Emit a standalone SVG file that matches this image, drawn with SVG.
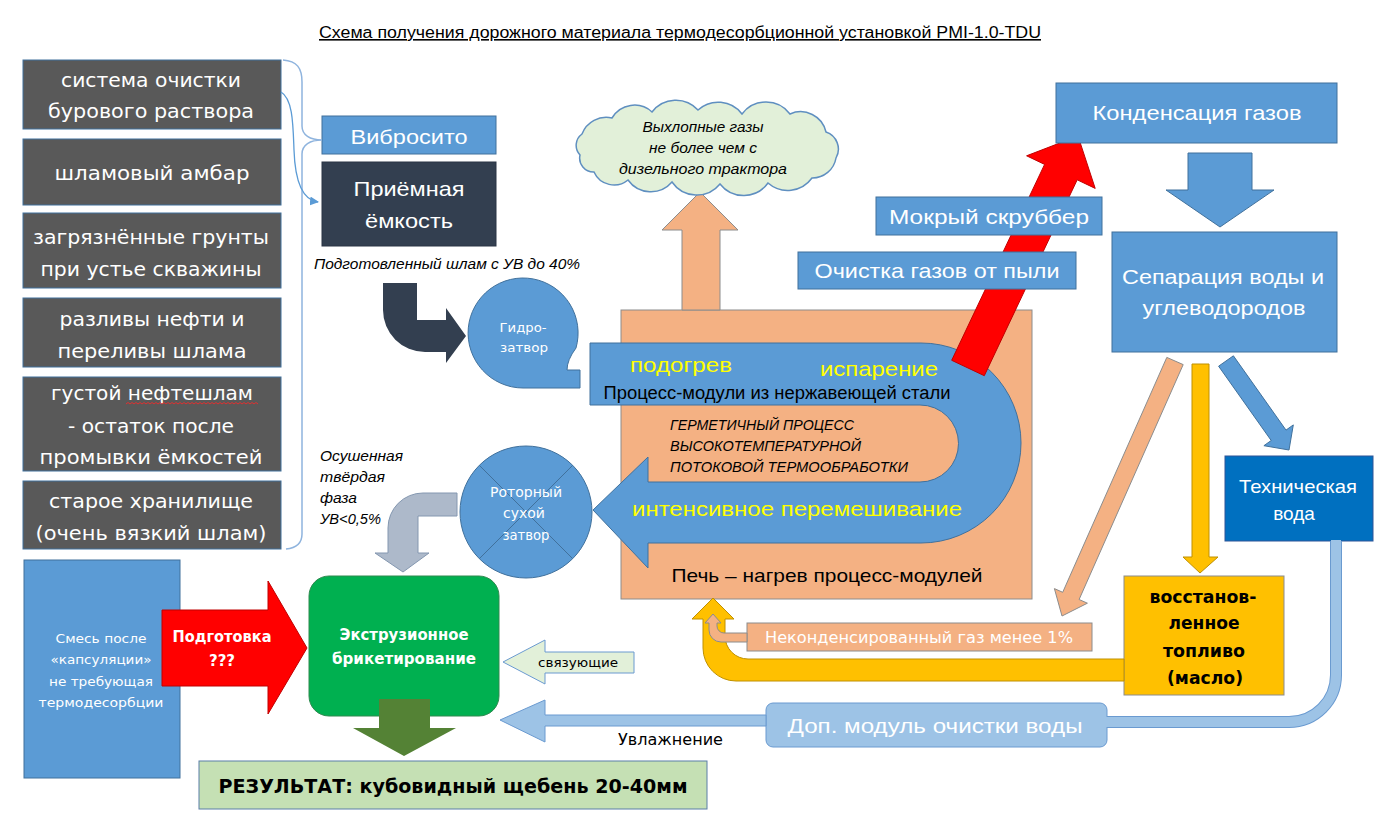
<svg xmlns="http://www.w3.org/2000/svg" width="1392" height="830" viewBox="0 0 1392 830">
<defs>
<style>
.cal{font-family:"Liberation Sans",Arial,sans-serif}
.ver{font-family:"DejaVu Sans",Verdana,sans-serif}
.w{fill:#ffffff}
.k{fill:#000000}
.y{fill:#ffff00}
.it{font-style:italic}
.b{font-weight:bold}
.gray{fill:#595959;stroke:#41719c;stroke-width:1}
.blue{fill:#5b9bd5;stroke:#41719c;stroke-width:1}
.org{fill:#f4b183;stroke:#8c8c8c;stroke-width:1}
.lt{font-size:19px}
</style>
<marker id="ah" markerWidth="9" markerHeight="9" refX="8" refY="4.5" orient="auto" markerUnits="userSpaceOnUse"><path d="M0,0 L9,4.5 L0,9 Z" fill="#5b9bd5"/></marker>
</defs>
<rect x="0" y="0" width="1392" height="830" fill="#ffffff"/>

<g id="title">
<text class="cal k" x="680" y="38" font-size="16" text-anchor="middle" textLength="722" lengthAdjust="spacingAndGlyphs" text-decoration="underline">Схема получения дорожного материала термодесорбционной установкой PMI-1.0-TDU</text>
</g>

<g id="sources">
<rect class="gray" x="23" y="60" width="258" height="69"/>
<text class="ver w lt" x="151" y="87" text-anchor="middle" textLength="180" lengthAdjust="spacingAndGlyphs">система очистки</text>
<text class="ver w lt" x="151" y="118" text-anchor="middle" textLength="206" lengthAdjust="spacingAndGlyphs">бурового раствора</text>
<rect class="gray" x="23" y="139" width="258" height="66"/>
<text class="ver w lt" x="152" y="180" text-anchor="middle" textLength="195" lengthAdjust="spacingAndGlyphs">шламовый амбар</text>
<rect class="gray" x="23" y="213" width="258" height="75"/>
<text class="ver w lt" x="151" y="244" text-anchor="middle" textLength="236" lengthAdjust="spacingAndGlyphs">загрязнённые грунты</text>
<text class="ver w lt" x="151" y="276" text-anchor="middle" textLength="221" lengthAdjust="spacingAndGlyphs">при устье скважины</text>
<rect class="gray" x="23" y="298" width="258" height="69"/>
<text class="ver w lt" x="152" y="326" text-anchor="middle" textLength="185" lengthAdjust="spacingAndGlyphs">разливы нефти и</text>
<text class="ver w lt" x="152" y="358" text-anchor="middle" textLength="189" lengthAdjust="spacingAndGlyphs">переливы шлама</text>
<rect class="gray" x="23" y="377" width="258" height="94"/>
<text class="ver w lt" x="152" y="400" text-anchor="middle" textLength="202" lengthAdjust="spacingAndGlyphs">густой нефтешлам</text>
<path d="M126,404 l2,-1.5 l2,1.5 l2,-1.5 l2,1.5 l2,-1.5 l2,1.5 l2,-1.5 l2,1.5 l2,-1.5 l2,1.5 l2,-1.5 l2,1.5 l2,-1.5 l2,1.5 l2,-1.5 l2,1.5 l2,-1.5 l2,1.5 l2,-1.5 l2,1.5 l2,-1.5 l2,1.5 l2,-1.5 l2,1.5 l2,-1.5 l2,1.5 l2,-1.5 l2,1.5 l2,-1.5 l2,1.5 l2,-1.5 l2,1.5 l2,-1.5 l2,1.5 l2,-1.5 l2,1.5 l2,-1.5 l2,1.5 l2,-1.5 l2,1.5 l2,-1.5 l2,1.5 l2,-1.5 l2,1.5 l2,-1.5 l2,1.5 l2,-1.5 l2,1.5 l2,-1.5 l2,1.5 l2,-1.5 l2,1.5 l2,-1.5 l2,1.5 l2,-1.5 l2,1.5 l2,-1.5 l2,1.5 l2,-1.5 l2,1.5 l2,-1.5 l2,1.5 l2,-1.5 l2,1.5 l2,-1.5 l2,1.5" fill="none" stroke="#e03030" stroke-width="1"/>
<text class="ver w lt" x="151" y="433" text-anchor="middle" textLength="166" lengthAdjust="spacingAndGlyphs">- остаток после</text>
<text class="ver w lt" x="151" y="464" text-anchor="middle" textLength="223" lengthAdjust="spacingAndGlyphs">промывки ёмкостей</text>
<rect class="gray" x="23" y="481" width="258" height="68"/>
<text class="ver w lt" x="151" y="508" text-anchor="middle" textLength="204" lengthAdjust="spacingAndGlyphs">старое хранилище</text>
<text class="ver w lt" x="151" y="540" text-anchor="middle" textLength="231" lengthAdjust="spacingAndGlyphs">(очень вязкий шлам)</text>
</g>

<g id="vibrosito">
<rect class="blue" x="322" y="116" width="174" height="38"/>
<text class="cal w" x="409" y="144" font-size="20" text-anchor="middle" textLength="117" lengthAdjust="spacingAndGlyphs">Вибросито</text>
</g>

<g id="priemnaya">
<rect x="322" y="162" width="174" height="84" fill="#333f50" stroke="#2a3444"/>
<text class="cal w" x="409" y="196" font-size="21" text-anchor="middle" textLength="111" lengthAdjust="spacingAndGlyphs">Приёмная</text>
<text class="cal w" x="409" y="228" font-size="21" text-anchor="middle" textLength="88" lengthAdjust="spacingAndGlyphs">ёмкость</text>
</g>

<g id="label-shlam">
<text class="cal k it" x="314" y="269" font-size="15" textLength="266" lengthAdjust="spacingAndGlyphs">Подготовленный шлам с УВ до 40%</text>
</g>

<g id="furnace">
<rect class="org" x="621" y="310" width="411" height="289"/>
<text class="cal k" x="827" y="582" font-size="19" text-anchor="middle" textLength="311" lengthAdjust="spacingAndGlyphs">Печь – нагрев процесс-модулей</text>
</g>

<g id="exhaust-arrow">
<path class="org" d="M682,310 L682,230 L662,230 L700,192 L738,230 L720,230 L720,310 Z"/>
</g>

<g id="cloud">
<path d="M580,155 A14,14 0 0 1 582,134 A26,26 0 0 1 612,118 A26,26 0 0 1 652,112 A30,30 0 0 1 698,110 A30,30 0 0 1 742,114 A30,30 0 0 1 790,114 A26,26 0 0 1 826,132 A18,18 0 0 1 836,158 A24,24 0 0 1 812,178 A30,30 0 0 1 768,183 A30,30 0 0 1 720,184 A30,30 0 0 1 672,182 A28,28 0 0 1 628,180 A22,22 0 0 1 594,172 A14,14 0 0 1 580,155 Z" fill="#e2f0d9" stroke="#5f8fc0" stroke-width="1.5"/>
<text class="cal k it" x="703" y="132" font-size="15" text-anchor="middle" textLength="121" lengthAdjust="spacingAndGlyphs">Выхлопные газы</text>
<text class="cal k it" x="703" y="153" font-size="15" text-anchor="middle" textLength="108" lengthAdjust="spacingAndGlyphs">не более чем с</text>
<text class="cal k it" x="703" y="174" font-size="15" text-anchor="middle" textLength="168" lengthAdjust="spacingAndGlyphs">дизельного трактора</text>
</g>

<g id="process-band">
<path class="blue" d="M590,343 L921,343 A100,100 0 0 1 921,543 L648,543 L648,568 L593,510 L648,457 L648,482 L920,482 A38.5,38.5 0 0 0 920,405 L590,405 Z"/>
<text class="cal y" x="681" y="372" font-size="21" text-anchor="middle" textLength="102" lengthAdjust="spacingAndGlyphs">подогрев</text>
<text class="cal y" x="879" y="376" font-size="21" text-anchor="middle" textLength="118" lengthAdjust="spacingAndGlyphs">испарение</text>
<text class="cal k" x="777" y="399" font-size="18" text-anchor="middle" textLength="347" lengthAdjust="spacingAndGlyphs">Процесс-модули из нержавеющей стали</text>
<text class="cal k it" x="670" y="430" font-size="14" textLength="184" lengthAdjust="spacingAndGlyphs">ГЕРМЕТИЧНЫЙ ПРОЦЕСС</text>
<text class="cal k it" x="670" y="451" font-size="14" textLength="191" lengthAdjust="spacingAndGlyphs">ВЫСОКОТЕМПЕРАТУРНОЙ</text>
<text class="cal k it" x="670" y="472" font-size="14" textLength="238" lengthAdjust="spacingAndGlyphs">ПОТОКОВОЙ ТЕРМООБРАБОТКИ</text>
<text class="cal y" x="797" y="516" font-size="21" text-anchor="middle" textLength="330" lengthAdjust="spacingAndGlyphs">интенсивное перемешивание</text>
</g>

<g id="gas-arrow">
<path d="M951.7,360.3 L1044.6,164.4 L1026.6,155.8 L1078,136 L1095.2,188.4 L1077.2,179.8 L984.3,375.7 Z" fill="#ff0000" stroke="#c00000" stroke-width="1"/>
</g>

<g id="skrubber">
<rect class="blue" x="876" y="197" width="226" height="38"/>
<text class="cal w" x="989" y="224" font-size="21" text-anchor="middle" textLength="200" lengthAdjust="spacingAndGlyphs">Мокрый скруббер</text>
</g>

<g id="ochistka-gazov">
<rect class="blue" x="798" y="252" width="278" height="37"/>
<text class="cal w" x="937" y="278" font-size="21" text-anchor="middle" textLength="245" lengthAdjust="spacingAndGlyphs">Очистка газов от пыли</text>
</g>

<g id="kondensaciya">
<rect class="blue" x="1056" y="83" width="281" height="60"/>
<text class="cal w" x="1197" y="120" font-size="21" text-anchor="middle" textLength="209" lengthAdjust="spacingAndGlyphs">Конденсация газов</text>
</g>

<g id="separaciya">
<rect class="blue" x="1112" y="232" width="225" height="120"/>
<text class="cal w" x="1223" y="284" font-size="21" text-anchor="middle" textLength="202" lengthAdjust="spacingAndGlyphs">Сепарация воды и</text>
<text class="cal w" x="1224" y="315" font-size="21" text-anchor="middle" textLength="163" lengthAdjust="spacingAndGlyphs">углеводородов</text>
</g>

<g id="tech-voda">
<rect x="1225" y="456" width="148" height="85" fill="#0070c0" stroke="#2f5597"/>
<text class="cal w" x="1298" y="493" font-size="19" text-anchor="middle" textLength="118" lengthAdjust="spacingAndGlyphs">Техническая</text>
<text class="cal w" x="1294" y="520" font-size="19" text-anchor="middle">вода</text>
</g>

<g id="toplivo">
<rect x="1124" y="576" width="160" height="119" fill="#ffc000" stroke="#8c8c8c"/>
<text class="ver k b" x="1203" y="603" font-size="17" text-anchor="middle" textLength="107" lengthAdjust="spacingAndGlyphs">восстанов-</text>
<text class="ver k b" x="1204" y="629" font-size="17" text-anchor="middle" textLength="71" lengthAdjust="spacingAndGlyphs">ленное</text>
<text class="ver k b" x="1204" y="657" font-size="17" text-anchor="middle" textLength="82" lengthAdjust="spacingAndGlyphs">топливо</text>
<text class="ver k b" x="1205" y="684" font-size="17" text-anchor="middle" textLength="76" lengthAdjust="spacingAndGlyphs">(масло)</text>
</g>

<g id="gidrozatvor">
<path class="blue" d="M523,388 A55,55 0 1 1 576,348 Q567,360 567,370 L580,370 L580,388 Z"/>
<text class="ver w" x="523" y="332" font-size="13" text-anchor="middle" textLength="47" lengthAdjust="spacingAndGlyphs">Гидро-</text>
<text class="ver w" x="524" y="352" font-size="13" text-anchor="middle" textLength="48" lengthAdjust="spacingAndGlyphs">затвор</text>
</g>

<g id="rotorny">
<circle class="blue" cx="526" cy="512" r="66"/>
<path d="M479.3,465.3 L572.7,558.7 M572.7,465.3 L479.3,558.7" stroke="#41719c" stroke-width="1"/>
<text class="ver w" x="526" y="497" font-size="14" text-anchor="middle" textLength="72" lengthAdjust="spacingAndGlyphs">Роторный</text>
<text class="ver w" x="524" y="518" font-size="14" text-anchor="middle">сухой</text>
<text class="ver w" x="526" y="540" font-size="14" text-anchor="middle" textLength="47" lengthAdjust="spacingAndGlyphs">затвор</text>
</g>

<g id="label-osushennaya">
<text class="cal k it" x="320" y="461" font-size="15" textLength="83" lengthAdjust="spacingAndGlyphs">Осушенная</text>
<text class="cal k it" x="320" y="482" font-size="15" textLength="65" lengthAdjust="spacingAndGlyphs">твёрдая</text>
<text class="cal k it" x="320" y="503" font-size="15" textLength="37" lengthAdjust="spacingAndGlyphs">фаза</text>
<text class="cal k it" x="320" y="524" font-size="15" textLength="61" lengthAdjust="spacingAndGlyphs">УВ&lt;0,5%</text>
</g>

<g id="smes">
<rect class="blue" x="24" y="560" width="156" height="218"/>
<text class="ver w" x="101" y="643" font-size="13" text-anchor="middle" textLength="91" lengthAdjust="spacingAndGlyphs">Смесь после</text>
<text class="ver w" x="101" y="664" font-size="13" text-anchor="middle" textLength="101" lengthAdjust="spacingAndGlyphs">«капсуляции»</text>
<text class="ver w" x="101" y="686" font-size="13" text-anchor="middle" textLength="104" lengthAdjust="spacingAndGlyphs">не требующая</text>
<text class="ver w" x="101" y="707" font-size="13" text-anchor="middle" textLength="125" lengthAdjust="spacingAndGlyphs">термодесорбции</text>
</g>

<g id="podgotovka">
<path d="M162,610 L268,610 L268,581 L307,648 L268,714 L268,686 L162,686 Z" fill="#ff0000" stroke="#c00000" stroke-width="1"/>
<text class="ver w b" x="222" y="642" font-size="15" text-anchor="middle" textLength="99" lengthAdjust="spacingAndGlyphs">Подготовка</text>
<text class="ver w b" x="222" y="666" font-size="15" text-anchor="middle">???</text>
</g>

<g id="ekstruziya">
<rect x="309" y="576" width="190" height="140" rx="20" fill="#00b050" stroke="#2e8a4f"/>
<text class="ver w b" x="404" y="640" font-size="15" text-anchor="middle" textLength="129" lengthAdjust="spacingAndGlyphs">Экструзионное</text>
<text class="ver w b" x="404" y="664" font-size="15" text-anchor="middle" textLength="144" lengthAdjust="spacingAndGlyphs">брикетирование</text>
</g>

<g id="svyazuyushchie">
<path d="M634,652 L545,652 L545,640 L503,662 L545,684 L545,673 L634,673 Z" fill="#e2f0d9" stroke="#6a9ad0" stroke-width="1"/>
<text class="ver k" x="578" y="667" font-size="13" text-anchor="middle" textLength="80" lengthAdjust="spacingAndGlyphs">связующие</text>
</g>

<g id="rezultat">
<rect x="199" y="761" width="508" height="48" fill="#c5e0b4" stroke="#5b7fa8"/>
<text class="ver k b" x="453" y="793" font-size="20" text-anchor="middle" textLength="469" lengthAdjust="spacingAndGlyphs">РЕЗУЛЬТАТ: кубовидный щебень 20-40мм</text>
</g>

<g id="dop-modul">
<rect x="766" y="703" width="341" height="44" rx="7" fill="#9dc3e6" stroke="#6a9ad0"/>
<text class="cal w" x="935" y="733" font-size="21" text-anchor="middle" textLength="295" lengthAdjust="spacingAndGlyphs">Доп. модуль очистки воды</text>
</g>

<g id="nekond">
<rect class="org" x="747" y="623" width="345" height="28"/>
<text class="ver w" x="919" y="643" font-size="16" text-anchor="middle" textLength="308" lengthAdjust="spacingAndGlyphs">Неконденсированный газ менее 1%</text>
</g>

<g id="connectors">
<path d="M283,60 C297,61 302,68 302,82 L302,126 C302,135 310,140 322,140 C310,140 302,145 302,154 L302,534 C302,543 296,548 286,549" fill="none" stroke="#8fb4de" stroke-width="1.5"/>
<path d="M281,92 C293,99 293,125 294,150 C295,180 302,200 318,202" fill="none" stroke="#5b9bd5" stroke-width="1.3" marker-end="url(#ah)"/>
<path d="M383,283 L417,283 L417,320 L446,320 L446,308 L466,336 L446,363 L446,352 L425,352 A42,42 0 0 1 383,310 Z" fill="#333f50"/>
<path d="M457,493 L457,516 L418,516 L418,553 L429,553 L403,572 L375,553 L388,553 L388,528 A35,35 0 0 1 423,493 Z" fill="#adb9ca" stroke="#8497b0" stroke-width="1"/>
<path d="M379,699 L430,699 L430,728 L456,728 L404,756 L353,728 L379,728 Z" fill="#548235"/>
<path d="M1188,153 L1252,153 L1252,190 L1274,190 L1220,227 L1166,190 L1188,190 Z" class="blue"/>
<path d="M1218.6,366.2 L1233.4,355.8 L1286,430.1 L1293.3,424.9 L1289,450 L1263.9,445.7 L1271.2,440.5 Z" class="blue"/>
<path d="M1166.8,357.4 L1183.2,364.6 L1079.1,599.5 L1087.4,603.2 L1062,616 L1054.4,588.6 L1062.7,592.3 Z" class="org"/>
<path d="M1192,364 L1209,364 L1209,557 L1218,557 L1200,573 L1183,557 L1192,557 Z" fill="#ffc000" stroke="#bf9000" stroke-width="1"/>
<path d="M1124,659 L748,659 A23,23 0 0 1 725,636 L725,619 L734,619 L713,598 L692,619 L703,619 L703,648 A33,33 0 0 0 736,681 L1124,681 Z" fill="#ffc000" stroke="#bf9000" stroke-width="1"/>
<path d="M747,633 L724,633 A7,7 0 0 1 717,626 L717,623 L721,623 L713,614 L705,623 L709,623 L709,630 A12,12 0 0 0 721,642 L747,642 Z" class="org"/>
<path d="M1336,541 L1336,675 A47,47 0 0 1 1289,722 L1107,722" fill="none" stroke="#6a9ad0" stroke-width="12"/>
<path d="M1336,540 L1336,675 A47,47 0 0 1 1289,722 L1106,722" fill="none" stroke="#9dc3e6" stroke-width="10"/>
<path d="M766,715 L545,715 L545,700 L500,720 L545,742 L545,726 L766,726 Z" fill="#9dc3e6" stroke="#6a9ad0" stroke-width="1"/>
<text class="ver k" x="618" y="745" font-size="15" textLength="105" lengthAdjust="spacingAndGlyphs">Увлажнение</text>
</g>
</svg>
